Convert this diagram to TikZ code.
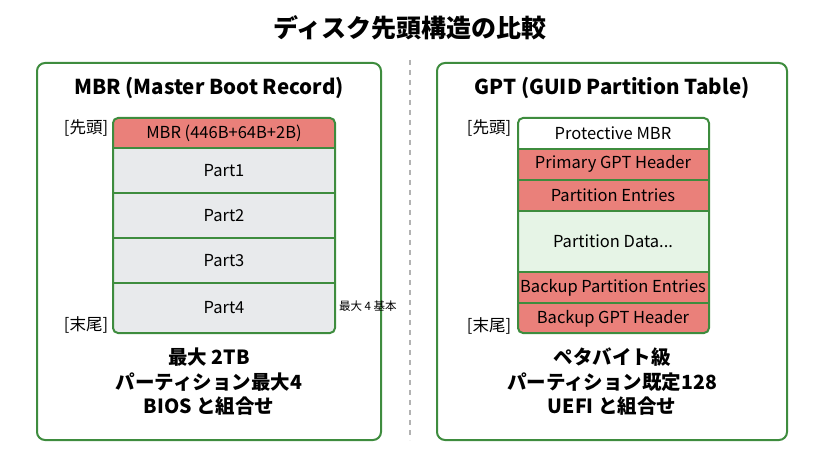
\documentclass[tikz,border=0pt]{standalone}
\usepackage{fontspec}
\setmainfont{Noto Sans CJK JP}
\definecolor{frame}{RGB}{62,140,62}
\definecolor{hdr}{RGB}{234,128,122}
\definecolor{part}{RGB}{232,234,236}
\definecolor{data}{RGB}{230,244,230}
\tikzset{every picture/.style={line width=0.75pt}}
\tikzset{
  panel/.style={draw=frame, line width=2pt, rounded corners=8pt},
  cell/.style={draw=frame, line width=1.2pt},
  lbl/.style={font=\fontsize{16.5}{18}\selectfont, inner sep=0.75pt},
  big/.style={font=\fontsize{19.5}{24.5}\selectfont\bfseries, align=center, inner sep=0.75pt}
}
\begin{document}
\begin{tikzpicture}[x=1pt,y=1pt,yscale=-1,xscale=1]
\useasboundingbox (0,0) rectangle (819,457);

% Title
\node (title) at (410,28) [inner sep=0.75pt, font=\fontsize{25}{28}\selectfont\bfseries] {ディスク先頭構造の比較};
% divider
\draw [gray!60, line width=1.2pt, dash pattern={on 5pt off 5pt}] (410,60) -- (410,440);

% Panels
\draw [panel] (37,63) rectangle (381,440);
\draw [panel] (437,63) rectangle (787,440);
\node (mbrhead) at (209,88) [inner sep=0.75pt, font=\fontsize{20.5}{24}\selectfont\bfseries] {MBR (Master Boot Record)};
\node (gpthead) at (612,88) [inner sep=0.75pt, font=\fontsize{20.5}{24}\selectfont\bfseries] {GPT (GUID Partition Table)};

% MBR stack
\fill [part, rounded corners=5pt] (113,118) rectangle (335,333);
\begin{scope}
\clip [rounded corners=5pt] (113,118) rectangle (335,333);
\fill [hdr] (113,118) rectangle (335,148);
\end{scope}
\draw [cell] (113,148) -- (335,148);
\draw [cell] (113,193) -- (335,193);
\draw [cell] (113,238) -- (335,238);
\draw [cell] (113,283) -- (335,283);
\draw [cell, line width=2pt, rounded corners=5pt] (113,118) rectangle (335,333);
\node (mbr) at (224,133) [lbl] {MBR (446B+64B+2B)};
\node (p1) at (224,171) [lbl] {Part1};
\node (p2) at (224,216) [lbl] {Part2};
\node (p3) at (224,261) [lbl] {Part3};
\node (p4) at (224,308) [lbl] {Part4};
\node (ltop) at (86,128) [lbl] {[先頭]};
\node (lend) at (86,325) [lbl] {[末尾]};
\node (max4) at (338,306) [anchor=west, inner sep=0.75pt, font=\fontsize{11.5}{13}\selectfont] {最大 4 基本};
\node (mbrtxt) at (209,382) [big] {最大 2TB\\パーティション最大4\\BIOS と組合せ};

% GPT stack
\fill [white, rounded corners=5pt] (518,118) rectangle (709,333);
\begin{scope}
\clip [rounded corners=5pt] (518,118) rectangle (709,333);
\fill [hdr] (518,149) rectangle (709,211);
\fill [data] (518,211) rectangle (709,272);
\fill [hdr] (518,272) rectangle (709,333);
\end{scope}
\foreach \yy in {149,180,211,272,303}
  \draw [cell] (518,\yy) -- (709,\yy);
\draw [cell, line width=2pt, rounded corners=5pt] (518,118) rectangle (709,333);
\node (pmbr) at (613,133) [lbl] {Protective MBR};
\node (pgh) at (613,164) [lbl] {Primary GPT Header};
\node (pe) at (613,195) [lbl] {Partition Entries};
\node (pd) at (613,241) [lbl] {Partition Data...};
\node (bpe) at (613,288) [lbl] {Backup Partition Entries};
\node (bgh) at (613,319) [lbl] {Backup GPT Header};
\node (rtop) at (489,128) [lbl] {[先頭]};
\node (rend) at (489,326) [lbl] {[末尾]};
\node (gpttxt) at (612,382) [big] {ペタバイト級\\パーティション既定128\\UEFI と組合せ};
\end{tikzpicture}
\end{document}
